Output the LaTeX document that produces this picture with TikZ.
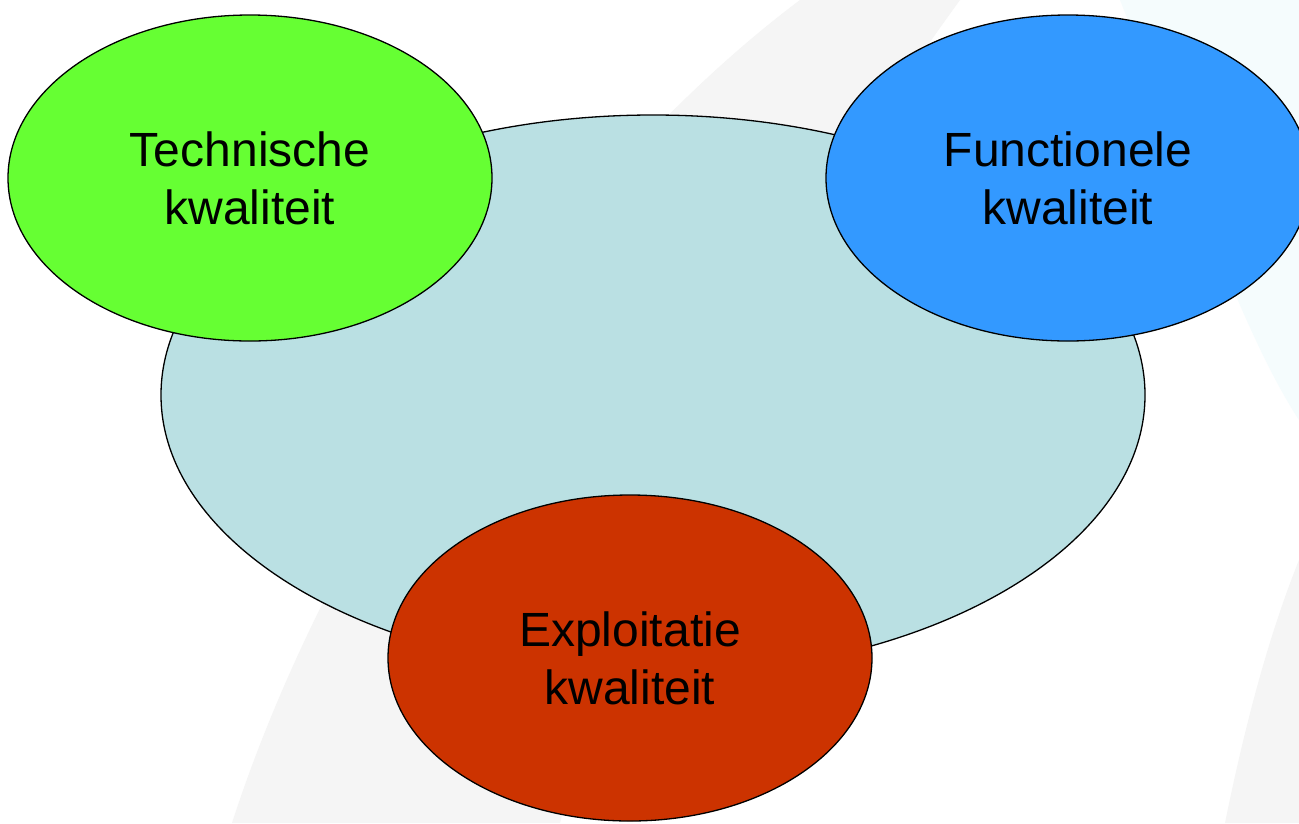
\documentclass[tikz,border=0pt]{standalone}
\usepackage{fontspec}
\setmainfont{Liberation Sans}
\usetikzlibrary{shapes.geometric}
\begin{document}
\begin{tikzpicture}[x=1pt,y=-1pt,
  quality/.style={ellipse, draw=black, line width=1.3pt, inner sep=0pt,
    minimum width=484pt, minimum height=326pt, align=center,
    font=\fontsize{48}{58}\selectfont},
  swoosh/.style={fill=black!4, draw=none}]
\definecolor{coreblue}{HTML}{BAE0E3}
\definecolor{techgreen}{HTML}{66FF33}
\definecolor{funcblue}{HTML}{3399FF}
\definecolor{exploitred}{HTML}{CC3300}
\definecolor{tint}{HTML}{F5FCFD}
\useasboundingbox (0,0) rectangle (1299,823);
\fill[white] (0,0) rectangle (1299,823);
% faint background sweeps
\fill[tint] (1120,0) .. controls (1180,150) and (1240,330) .. (1299,420) -- (1299,0) -- cycle;
\fill[swoosh] (232,823) .. controls (330,520) and (560,180) .. (800,0)
  -- (960,0) .. controls (800,220) and (640,500) .. (560,823) -- cycle;
\fill[swoosh] (1225,823) .. controls (1250,700) and (1275,620) .. (1299,560) -- (1299,823) -- cycle;
% core and the three quality aspects
\node[ellipse, draw=black, line width=1.3pt, fill=coreblue,
  minimum width=984pt, minimum height=560pt] (core) at (653,395) {};
\node[quality, fill=techgreen] (tech) at (250,178) {Technische\\kwaliteit};
\node[quality, fill=funcblue] (func) at (1068,178) {Functionele\\kwaliteit};
\node[quality, fill=exploitred] (expl) at (630,658) {Exploitatie\\kwaliteit};
\end{tikzpicture}
\end{document}
